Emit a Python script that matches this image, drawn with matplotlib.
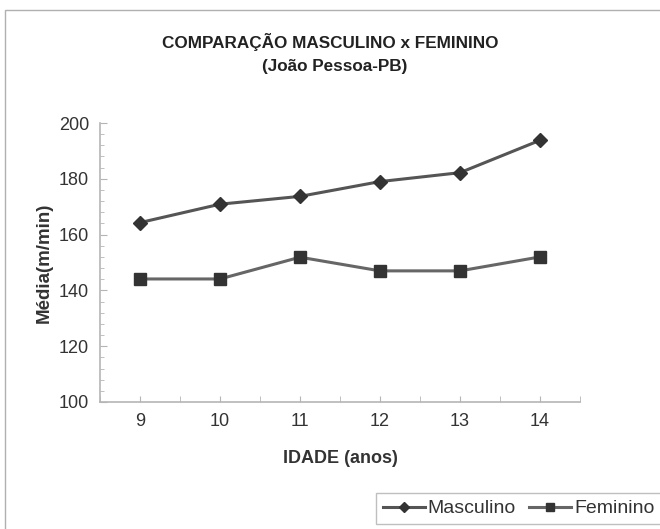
import matplotlib
matplotlib.use("Agg")
import matplotlib.pyplot as plt
from matplotlib.patches import Rectangle
from matplotlib.ticker import MultipleLocator

plt.rcParams['font.family'] = ['Liberation Sans', 'DejaVu Sans']

idades = [9, 10, 11, 12, 13, 14]
masculino = [164.3, 170.9, 173.7, 179.0, 182.2, 193.8]
feminino = [144.1, 144.1, 151.9, 147.0, 147.0, 152.0]

W, H = 660, 529
fig = plt.figure(figsize=(W/100, H/100), dpi=100)
fig.patch.set_facecolor('white')

# outer chart border
fig.add_artist(Rectangle((5/W, -0.1), 1.2, 1 - 10/H + 0.1, transform=fig.transFigure,
                         fill=False, edgecolor='#b0b0b0', linewidth=1.0))

ax = fig.add_axes([100/W, 1 - 402/H, 480/W, 279/H])
x = list(range(len(idades)))
ax.plot(x, masculino, color='#555555', linewidth=2.2, marker='D', markersize=7,
        markerfacecolor='#333333', markeredgecolor='#333333', label='Masculino')
ax.plot(x, feminino, color='#666666', linewidth=2.2, marker='s', markersize=9,
        markerfacecolor='#333333', markeredgecolor='#333333', label='Feminino')

ax.set_xlim(-0.5, len(idades) - 0.5)
ax.set_ylim(100, 200)
ax.set_xticks(x)
ax.set_xticklabels([str(v) for v in idades])
ax.xaxis.set_minor_locator(MultipleLocator(0.5))
ax.yaxis.set_major_locator(MultipleLocator(20))
ax.yaxis.set_minor_locator(MultipleLocator(4))
for s in ['top', 'right']:
    ax.spines[s].set_visible(False)
for s in ['left', 'bottom']:
    ax.spines[s].set_color('#b5b5b5')
    ax.spines[s].set_linewidth(1.2)
ax.tick_params(axis='both', which='both', color='#b5b5b5', labelcolor='#333333', labelsize=13)
ax.tick_params(axis='y', which='major', length=5, direction='in', pad=8)
ax.tick_params(axis='y', which='minor', length=3, direction='in')
ax.tick_params(axis='x', which='both', length=4, direction='in', pad=8)

ax.set_ylabel('Média(m/min)', fontsize=13.5, fontweight='bold', color='#333333', labelpad=4)
ax.set_xlabel('IDADE (anos)', fontsize=13, fontweight='bold', color='#333333', labelpad=14)

fig.text(330/W, 1 - 42/H, 'COMPARAÇÃO MASCULINO x FEMININO', ha='center', va='center',
         fontsize=12.3, fontweight='bold', color='#222222')
fig.text(335/W, 1 - 67/H, '(João Pessoa-PB)', ha='center', va='center',
         fontsize=12.3, fontweight='bold', color='#222222')

leg = fig.legend(loc='upper left', bbox_to_anchor=(376/W, 1 - 493/H), ncol=2, frameon=True,
                 fancybox=False, edgecolor='#b0b0b0', fontsize=14, handlelength=2.15,
                 columnspacing=0.7, handletextpad=0.15, borderpad=0.35, borderaxespad=0,
                 markerscale=0.7)
leg.get_frame().set_linewidth(1.0)
for t in leg.get_texts():
    t.set_color('#333333')

fig.savefig('out.png', dpi=100)
